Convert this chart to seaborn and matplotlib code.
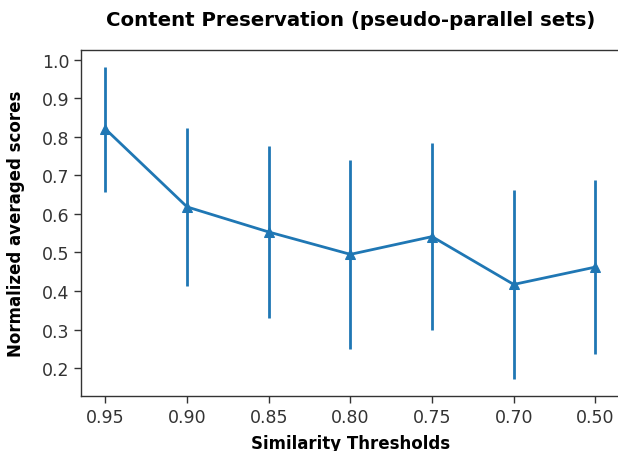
import numpy as np
import pandas as pd
import matplotlib
matplotlib.use('Agg')
import matplotlib.pyplot as plt
import seaborn as sns

# thresholds (categorical, in plotted order)
thresholds = ['0.95', '0.90', '0.85', '0.80', '0.75', '0.70', '0.50']
# mean normalized scores
scores = [0.820, 0.618, 0.553, 0.495, 0.541, 0.417, 0.462]
# error bar half-lengths
errors = [0.162, 0.206, 0.222, 0.246, 0.242, 0.245, 0.225]

df = pd.DataFrame({'pos': np.arange(len(thresholds)), 'score': scores, 'err': errors})

sns.set_style('white')
plt.rcParams['font.family'] = ['DejaVu Sans']

fig = plt.figure(figsize=(6.18, 4.52), dpi=100)
ax = fig.add_axes([0.131, 0.122, 0.872, 0.766])

color = '#1f77b4'
ax.errorbar(df['pos'], df['score'], yerr=df['err'], fmt='none', ecolor=color, elinewidth=2, capsize=0)
sns.lineplot(data=df, x='pos', y='score', ax=ax, color=color, linewidth=2,
             marker='^', markersize=7, markeredgecolor=color)

ax.set_xticks(df['pos'])
ax.set_xticklabels(thresholds)
ax.set_yticks([0.2, 0.3, 0.4, 0.5, 0.6, 0.7, 0.8, 0.9, 1.0])
ax.set_ylim(0.128, 1.026)
ax.set_xlim(-0.3, 6.3)

ax.tick_params(axis='both', which='both', direction='out', length=5, width=1,
               color='#333333', labelcolor='#333333', labelsize=12.5, left=True, bottom=True)
for s in ax.spines.values():
    s.set_color('#333333')
    s.set_linewidth(1)
# the original image is cropped right at the right edge of the axes
ax.spines['right'].set_visible(False)

ax.set_title('Content Preservation (pseudo-parallel sets)', fontsize=14.2, fontweight='bold',
             pad=18, color='black')
ax.set_xlabel('Similarity Thresholds', fontsize=12, fontweight='bold', labelpad=6, color='black')
ax.set_ylabel('Normalized averaged scores', fontsize=12, fontweight='bold', labelpad=12, color='black')

fig.savefig('out.png', dpi=100)
